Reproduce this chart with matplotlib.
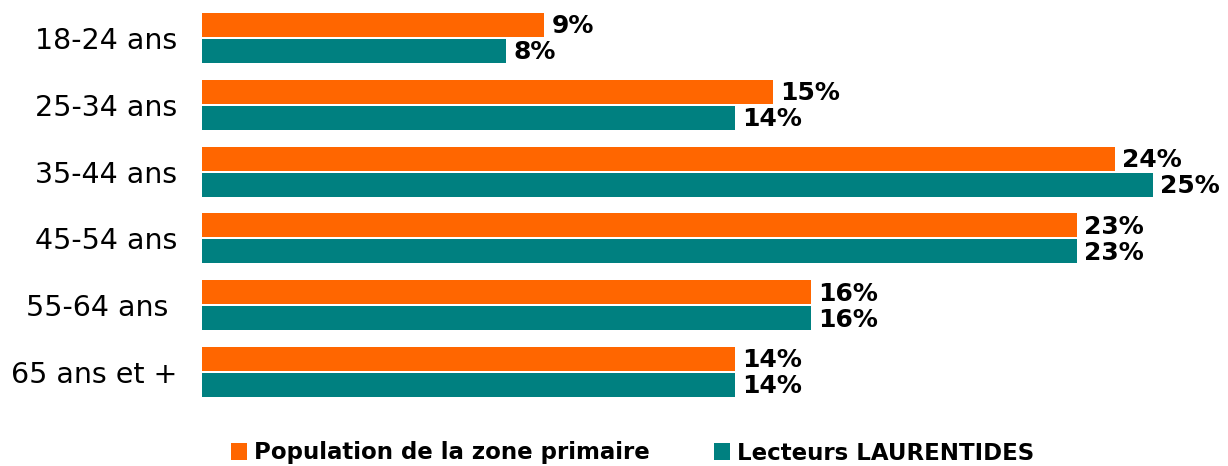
import matplotlib
matplotlib.use("Agg")
import matplotlib.pyplot as plt
import numpy as np

categories = ["18-24 ans", "25-34 ans", "35-44 ans", "45-54 ans", "55-64 ans ", "65 ans et +"]
population = [9, 15, 24, 23, 16, 14]
lecteurs = [8, 14, 25, 23, 16, 14]
series_names = ["Population de la zone primaire", "Lecteurs LAURENTIDES"]
colors = ["#FF6600", "#008080"]

fig = plt.figure(figsize=(12.28, 4.66), dpi=100)
ax = fig.add_axes([202 / 1228, 1 - 405.4 / 466, 1000 / 1228, (405.4 - 4.6) / 466])

y = np.arange(len(categories))
h = 0.36
off = 0.195
b1 = ax.barh(y - off, population, height=h, color=colors[0], label=series_names[0])
b2 = ax.barh(y + off, lecteurs, height=h, color=colors[1], label=series_names[1])

for bars, vals in ((b1, population), (b2, lecteurs)):
    for rect, v in zip(bars, vals):
        ax.annotate(f"{v}%", (rect.get_width(), rect.get_y() + rect.get_height() / 2),
                    xytext=(5, -1), textcoords="offset points", va="center", ha="left",
                    fontsize=18, fontweight="bold", color="black")

ax.set_xlim(0, 1000 / 38.05)
ax.set_ylim(5.5, -0.5)
ax.set_yticks(y)
ax.set_yticklabels(categories, fontsize=20.5)
ax.tick_params(axis="y", length=0, pad=18)
ax.set_xticks([])
for s in ax.spines.values():
    s.set_visible(False)

leg = fig.legend(handles=[b1, b2], labels=series_names, loc="center",
                 bbox_to_anchor=(0.515, 1 - 453 / 466), ncol=2, frameon=False,
                 prop={"weight": "bold", "size": 16.5}, handlelength=0.7,
                 handleheight=0.7, handletextpad=0.3, columnspacing=2.8)

fig.savefig("out.png", dpi=100)
